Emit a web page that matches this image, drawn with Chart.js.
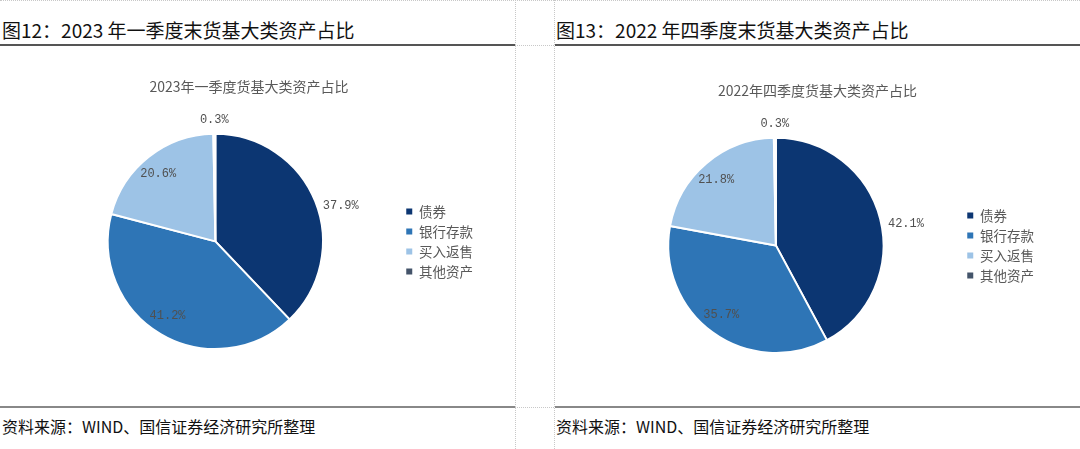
<!DOCTYPE html>
<html>
<head>
<meta charset="utf-8">
<script src="https://cdn.jsdelivr.net/npm/chart.js@4.4.1/dist/chart.umd.min.js"></script>
<style>
  html, body { margin: 0; padding: 0; background: #fff; }
  body { width: 1080px; height: 449px; position: relative; overflow: hidden; font-family: "Noto Sans CJK SC", sans-serif; }
  .vdot { position: absolute; top: 0; height: 449px; width: 0; border-left: 1px dotted #c8c8c8; }
  .hdot { position: absolute; height: 0; border-top: 1px dotted #c8c8c8; }
  .head { position: absolute; top: 17px; font-size: 19px; line-height: 26px; color: #111; white-space: nowrap; }
  .rule { position: absolute; height: 2px; background: #555; }
  .src-rule { position: absolute; height: 2px; background: #888; }
  .src { position: absolute; top: 415px; font-size: 16px; line-height: 22px; color: #111; white-space: nowrap; }
  canvas { position: absolute; }
</style>
</head>
<body>
<div class="hdot" style="left:0;top:0;width:1080px"></div>
<div class="vdot" style="left:515px"></div>
<div class="vdot" style="left:554px"></div>
<div class="hdot" style="left:515px;top:45px;width:39px"></div>
<div class="hdot" style="left:515px;top:407px;width:39px"></div>

<div class="head" style="left:2px">图12：2023 年一季度末货基大类资产占比</div>
<div class="head" style="left:556px">图13：2022 年四季度末货基大类资产占比</div>
<div class="rule" style="left:0;top:44px;width:515px"></div>
<div class="rule" style="left:555px;top:44px;width:525px"></div>

<canvas id="pieQ1" width="497" height="350" style="left:0;top:50px"></canvas>
<canvas id="pieQ4" width="525" height="350" style="left:555px;top:54px"></canvas>

<div class="src-rule" style="left:0;top:406px;width:515px"></div>
<div class="src-rule" style="left:555px;top:406px;width:525px"></div>
<div class="src" style="left:2px">资料来源：WIND、国信证券经济研究所整理</div>
<div class="src" style="left:556px">资料来源：WIND、国信证券经济研究所整理</div>

<script>
/* ---------- DATA ---------- */
const categories = ['债券', '银行存款', '买入返售', '其他资产'];
const share2023Q1 = [37.9, 41.2, 20.6, 0.3];
const share2022Q4 = [42.1, 35.7, 21.8, 0.3];
const sliceColors = ['#0c3672', '#2e75b6', '#9dc3e6', '#44546a'];

const GRAY = '#595959';
const CJK = '"Noto Sans CJK SC", sans-serif';

/* ---------- percent labels (inside / outside like Excel best fit) ---------- */
const pctLabels = {
  id: 'pctLabels',
  afterDatasetsDraw(chart, args, opts) {
    const ctx = chart.ctx;
    const vals = chart.data.datasets[0].data;
    const outside = opts.outside || [];
    ctx.save();
    ctx.font = '12px "Liberation Mono", monospace';
    ctx.fillStyle = '#505050';
    chart.getDatasetMeta(0).data.forEach((arc, i) => {
      const p = arc.getProps(['x', 'y', 'startAngle', 'endAngle', 'outerRadius'], true);
      const mid = (p.startAngle + p.endAngle) / 2;
      const cos = Math.cos(mid), sin = Math.sin(mid);
      const txt = vals[i].toFixed(1) + '%';
      if (outside.includes(i)) {
        const r = p.outerRadius + 8;
        let x = p.x + cos * r, y = p.y + sin * r;
        if (Math.abs(cos) < 0.3) {
          ctx.textAlign = 'center';
          ctx.textBaseline = sin < 0 ? 'bottom' : 'top';
          y += sin < 0 ? 0 : 2;
        } else {
          ctx.textAlign = cos > 0 ? 'left' : 'right';
          ctx.textBaseline = 'middle';
          y += 7;
        }
        ctx.fillText(txt, x, y);
      } else {
        const r = p.outerRadius * 0.8;
        ctx.textAlign = 'center';
        ctx.textBaseline = 'middle';
        ctx.fillText(txt, p.x + cos * r - 4, p.y + sin * r);
      }
    });
    ctx.restore();
  }
};

// legend column centred on the pie, title nudged sideways, like the Excel original
const boxNudge = {
  id: 'boxNudge',
  afterLayout(chart, args, opts) {
    const lg = chart.legend, ca = chart.chartArea;
    const h = lg.bottom - lg.top;
    const c = (ca.top + ca.bottom) / 2;
    lg.top = c - h / 2;
    lg.bottom = c + h / 2;
    const dx = opts.titleShift || 0;
    chart.titleBlock.left += dx;
    chart.titleBlock.right += dx;
  }
};

function drawPie(id, title, values, pad, titleShift) {
  const el = document.getElementById(id);
  return new Chart(el.getContext('2d'), {
    type: 'pie',
    data: {
      labels: categories,
      datasets: [{
        data: values,
        backgroundColor: sliceColors,
        borderColor: '#ffffff',
        borderWidth: 2
      }]
    },
    options: {
      responsive: false,
      animation: false,
      layout: { padding: pad },
      plugins: {
        title: {
          display: true,
          text: title,
          color: GRAY,
          font: { family: CJK, size: 14, weight: 'normal' },
          padding: { top: 28, bottom: 38 }
        },
        legend: {
          position: 'right',
          labels: {
            color: GRAY,
            font: { family: CJK, size: 13.5 },
            boxWidth: 6,
            boxHeight: 6,
            padding: 6.5,
            generateLabels(chart) {
              return Chart.overrides.pie.plugins.legend.labels.generateLabels(chart)
                .map(l => Object.assign(l, { lineWidth: 0 }));
            }
          }
        },
        tooltip: { enabled: false },
        pctLabels: { outside: [0, 3] },
        boxNudge: { titleShift: titleShift }
      }
    },
    plugins: [pctLabels, boxNudge]
  });
}

drawPie('pieQ1', '2023年一季度货基大类资产占比', share2023Q1,
  { left: 31, right: 14, top: 0, bottom: 50 }, -8);
drawPie('pieQ4', '2022年四季度货基大类资产占比', share2022Q4,
  { left: 36, right: 36, top: 0, bottom: 50 }, 0);
</script>
</body>
</html>
